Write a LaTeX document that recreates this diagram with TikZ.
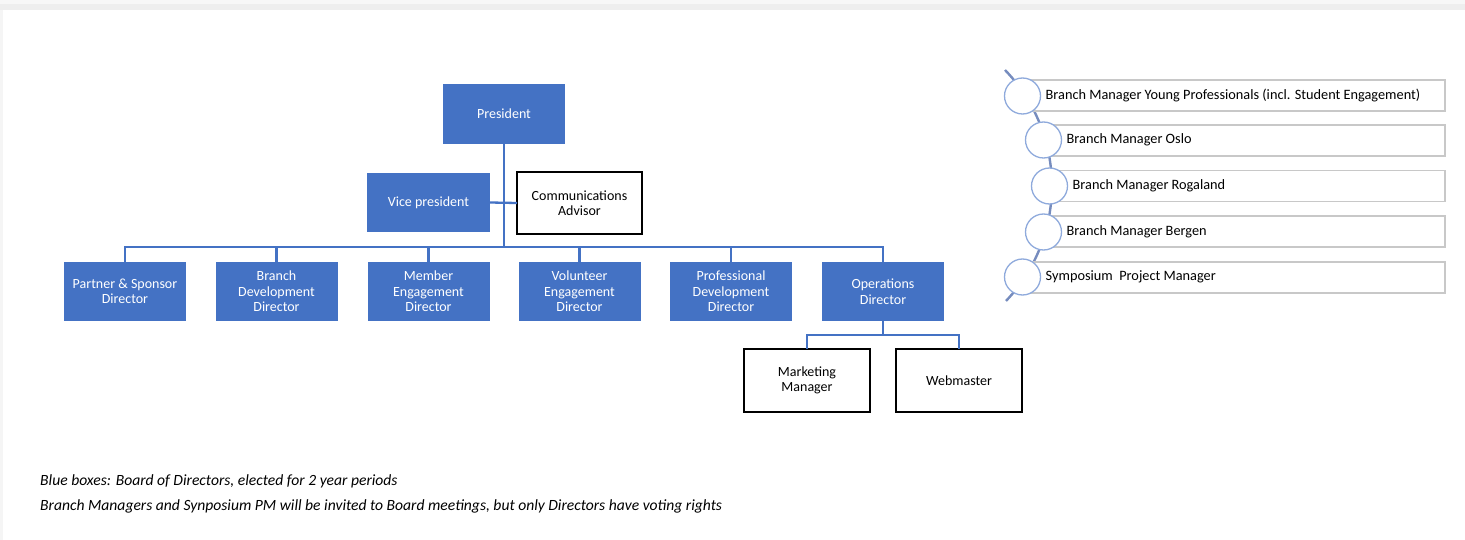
\documentclass[tikz,border=0pt]{standalone}
\usepackage{fontspec}
\setmainfont{Carlito}
\definecolor{boxblue}{HTML}{4472C4}
\definecolor{spineblue}{RGB}{118,140,190}
\definecolor{ringblue}{RGB}{143,170,220}
\definecolor{rowgray}{RGB}{200,200,200}
\tikzset{
  bluebox/.style={fill=boxblue, draw=none, text=white, align=center, inner sep=0pt, outer sep=0pt,
    minimum width=122pt, minimum height=59pt, font=\fontsize{14}{15.5}\selectfont},
  whitebox/.style={fill=white, draw=black, line width=1.6pt, text=black, align=center, inner sep=0pt, outer sep=0pt,
    minimum width=125pt, minimum height=62pt, font=\fontsize{14}{15.5}\selectfont},
  conn/.style={draw=boxblue, line width=2.3pt},
  rowbox/.style={draw=rowgray, line width=1.2pt, fill=white, inner sep=0pt, outer sep=0pt,
    minimum height=31pt, anchor=west},
  ring/.style={circle, draw=ringblue, line width=1.3pt, fill=white, inner sep=0pt, outer sep=0pt, minimum size=36pt},
  rowtext/.style={anchor=west, inner sep=0pt, font=\fontsize{14.3}{16}\selectfont},
  note/.style={anchor=base west, inner sep=0pt, font=\fontsize{15.6}{17}\selectfont\itshape},
}
\begin{document}
\begin{tikzpicture}[x=1pt, y=-1pt]
\useasboundingbox (0,0) rectangle (1465,540);
% screenshot frame shading
\fill[gray!6] (0,0) rectangle (1465,4);
\fill[gray!13] (0,4) rectangle (1465,10);
\fill[gray!8] (0,10) rectangle (3,540);

% main chart
\node[bluebox, minimum height=60pt] (pres) at (504,114) {President};
\node[bluebox, minimum width=123pt] (vp) at (428.5,202.5) {Vice president};
\node[whitebox] (ca) at (579.5,203) {Communications\\Advisor};

\node[bluebox] (d1) at (125,291.5) {Partner \& Sponsor\\Director};
\node[bluebox] (d2) at (276.5,291.5) {Branch\\Development\\Director};
\node[bluebox] (d3) at (428.5,291.5) {Member\\Engagement\\Director};
\node[bluebox] (d4) at (579.5,291.5) {Volunteer\\Engagement\\Director};
\node[bluebox] (d5) at (731,291.5) {Professional\\Development\\Director};
\node[bluebox] (d6) at (883,291.5) {Operations\\Director};

\node[whitebox, minimum width=126pt, minimum height=63pt] (mm) at (807,380.5) {Marketing\\Manager};
\node[whitebox, minimum width=126pt, minimum height=63pt] (wm) at (959,380.5) {Webmaster};

\coordinate (bar) at (504,247);
\draw[conn] (pres.south) -- (bar);
\draw[conn] (vp.east) -- (ca.west);
\draw[conn] (d1.north) -- ++(0,-15) -| (d6.north);
\foreach \d in {d2,d3,d4,d5} \draw[conn] (\d.north) -- ++(0,-15);
\draw[conn] (d6.south) -- ++(0,14) coordinate (opsj);
\draw[conn] (mm.north) |- (opsj) -| (wm.north);

% right list
\draw[spineblue, line width=2.4pt] (1005,70) arc[start angle=-44, end angle=43.5, radius=167];
\node[rowbox, minimum width=422.5pt] (r1) at (1022.5,95.5) {};
\node[rowbox, minimum width=401.5pt] (r2) at (1043.5,140.5) {};
\node[rowbox, minimum width=395.5pt] (r3) at (1049.5,186) {};
\node[rowbox, minimum width=401.5pt] (r4) at (1043.5,231.5) {};
\node[rowbox, minimum width=422.5pt] (r5) at (1022.5,277.5) {};
\node[ring] (c1) at (1022.5,96) {};
\node[ring] (c2) at (1043.5,140) {};
\node[ring] (c3) at (1049.5,186) {};
\node[ring] (c4) at (1043.5,232) {};
\node[ring] (c5) at (1022.5,277) {};
\node[rowtext] (t1) at ([xshift=5pt]c1.east) {Branch Manager Young Professionals (incl. Student Engagement)};
\node[rowtext] (t2) at ([xshift=5pt]c2.east) {Branch Manager Oslo};
\node[rowtext] (t3) at ([xshift=5pt]c3.east) {Branch Manager Rogaland};
\node[rowtext] (t4) at ([xshift=5pt]c4.east) {Branch Manager Bergen};
\node[rowtext] (t5) at ([xshift=5pt]c5.east) {Symposium~ Project Manager};

% notes
\node[note] (n1) at (40,485) {Blue boxes: Board of Directors, elected for 2 year periods};
\node[note] (n2) at (40,510) {Branch Managers and Synposium PM will be invited to Board meetings, but only Directors have voting rights};
\end{tikzpicture}
\end{document}
